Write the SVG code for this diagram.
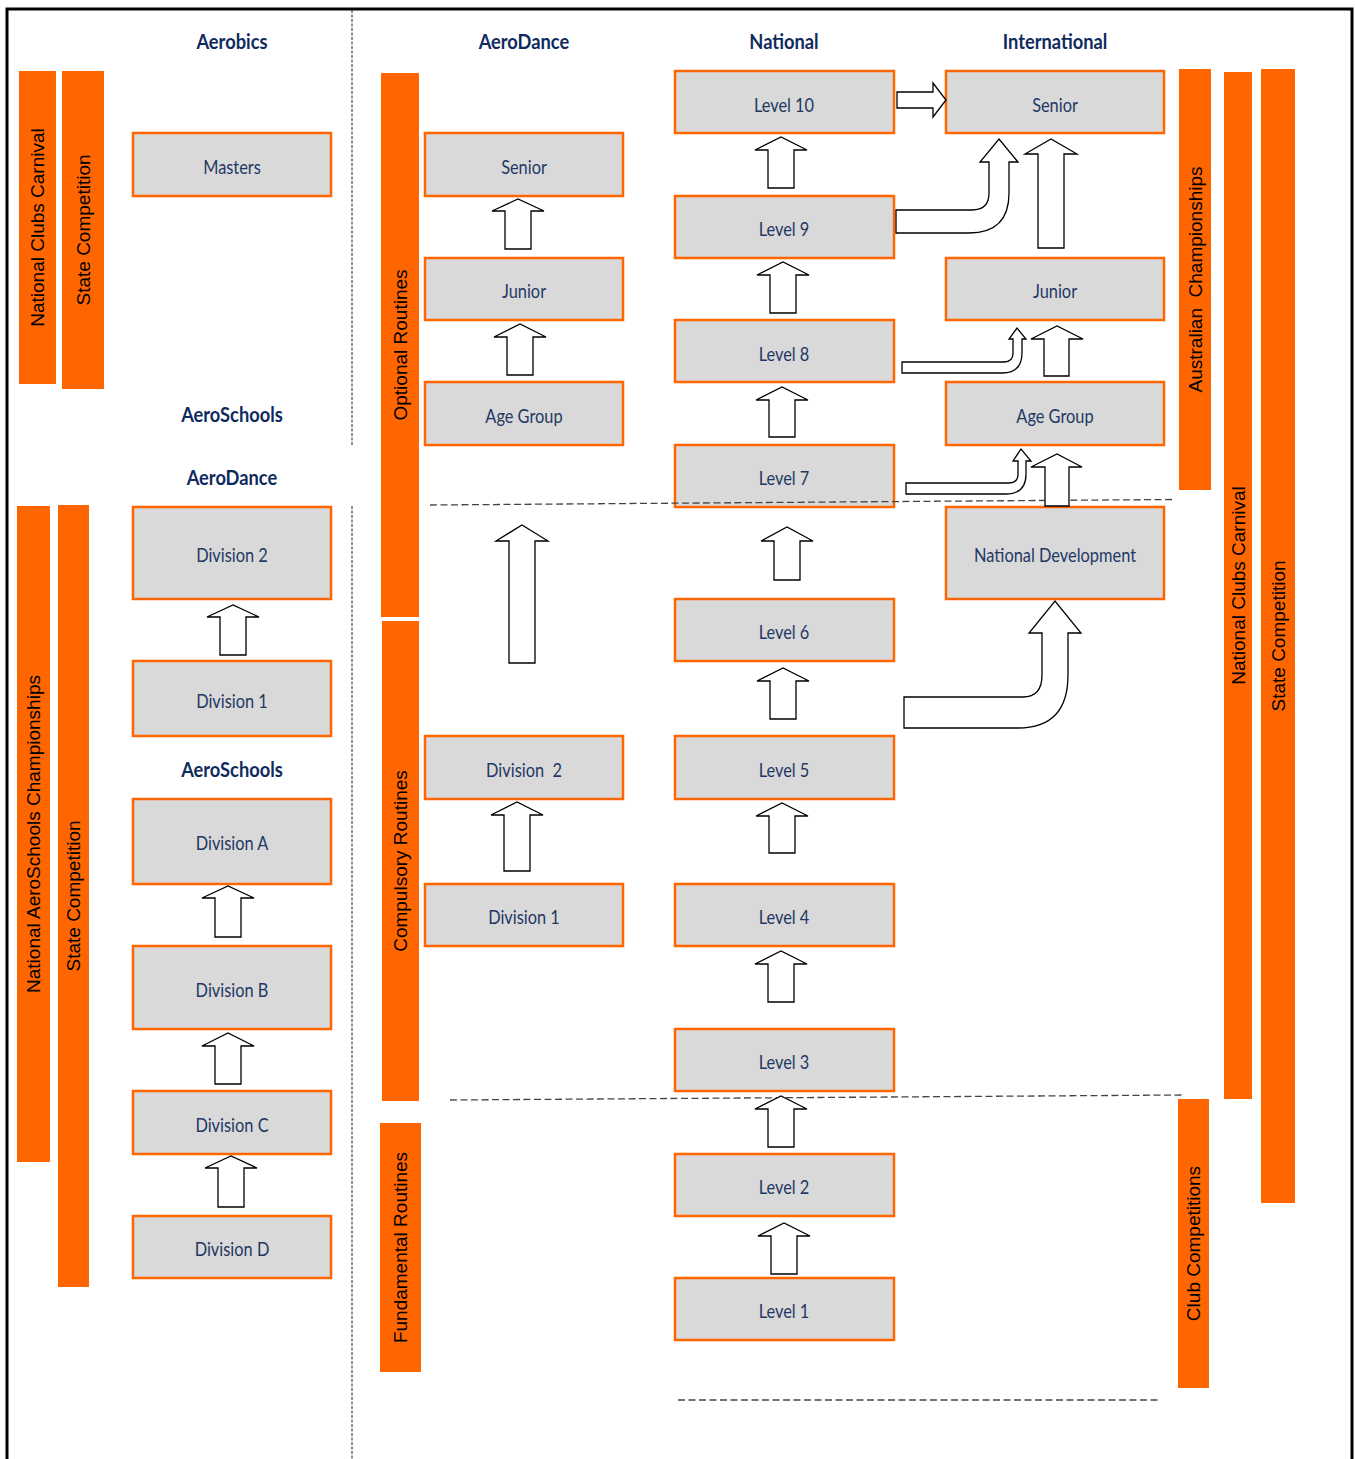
<svg xmlns="http://www.w3.org/2000/svg" width="1355" height="1459" viewBox="0 0 1355 1459">
<style>
.frame{fill:none;stroke:#000;stroke-width:3}
.sep{fill:none;stroke:#222;stroke-width:1;stroke-dasharray:3,1.5}
.dash{fill:none;stroke:#444;stroke-width:1.3;stroke-dasharray:7,3.5}
.bar{fill:#FF6600}
.btxt{font-family:"Liberation Sans",Arial,sans-serif;font-size:19px;fill:#000;text-anchor:middle;dominant-baseline:central;white-space:pre}
.box{fill:#D9D9D9;stroke:#FF6600;stroke-width:2.5}
.lbl{font-family:Lato,"Open Sans",sans-serif;font-size:19.5px;fill:#1F3864;text-anchor:middle;dominant-baseline:central;white-space:pre;transform-box:fill-box;transform-origin:center;transform:scaleX(0.84)}
.hdr{font-family:Lato,"Open Sans",sans-serif;font-size:21px;font-weight:bold;fill:#0F2B5E;text-anchor:middle;dominant-baseline:central;transform-box:fill-box;transform-origin:center;transform:scaleX(0.87)}
.arr{fill:#fff;stroke:#000;stroke-width:1.3;stroke-linejoin:miter}
</style>
<rect width="1355" height="1459" fill="#fff"/>
<rect class="frame" x="7" y="9" width="1345" height="1470"/>
<line class="sep" x1="352" y1="10" x2="352" y2="445"/>
<line class="sep" x1="352" y1="506" x2="352" y2="1459"/>

<g id="headers">
<text class="hdr" x="232" y="41">Aerobics</text>
<text class="hdr" x="524" y="41">AeroDance</text>
<text class="hdr" x="784" y="41">National</text>
<text class="hdr" x="1055" y="41">International</text>
<text class="hdr" x="232" y="414">AeroSchools</text>
<text class="hdr" x="232" y="477">AeroDance</text>
<text class="hdr" x="232" y="769">AeroSchools</text>
</g>

<g id="bar-national-clubs-carnival-left"><rect class="bar" x="19" y="71" width="37" height="313"/><text class="btxt" transform="translate(37.5,227.5) rotate(-90)">National Clubs Carnival</text></g>
<g id="bar-state-competition-left-top"><rect class="bar" x="62" y="71" width="42" height="318"/><text class="btxt" transform="translate(83,230) rotate(-90)">State Competition</text></g>
<g id="bar-national-aeroschools"><rect class="bar" x="17" y="506" width="33" height="656"/><text class="btxt" transform="translate(33.5,834) rotate(-90)">National AeroSchools Championships</text></g>
<g id="bar-state-competition-left-bottom"><rect class="bar" x="58" y="505" width="31" height="782"/><text class="btxt" transform="translate(73.5,896) rotate(-90)">State Competition</text></g>
<g id="bar-optional-routines"><rect class="bar" x="381" y="73" width="38" height="544"/><text class="btxt" transform="translate(400,345) rotate(-90)">Optional Routines</text></g>
<g id="bar-compulsory-routines"><rect class="bar" x="382" y="621" width="37" height="480"/><text class="btxt" transform="translate(400.5,861) rotate(-90)">Compulsory Routines</text></g>
<g id="bar-fundamental-routines"><rect class="bar" x="380" y="1123" width="41" height="249"/><text class="btxt" transform="translate(400.5,1247.5) rotate(-90)">Fundamental Routines</text></g>
<g id="bar-australian-championships"><rect class="bar" x="1179" y="69" width="32" height="421"/><text class="btxt" transform="translate(1195,279.5) rotate(-90)">Australian  Championships</text></g>
<g id="bar-national-clubs-carnival-right"><rect class="bar" x="1224" y="72" width="28" height="1027"/><text class="btxt" transform="translate(1238,585.5) rotate(-90)">National Clubs Carnival</text></g>
<g id="bar-state-competition-right"><rect class="bar" x="1261" y="69" width="34" height="1134"/><text class="btxt" transform="translate(1278,636) rotate(-90)">State Competition</text></g>
<g id="bar-club-competitions"><rect class="bar" x="1178" y="1099" width="31" height="289"/><text class="btxt" transform="translate(1193.5,1243.5) rotate(-90)">Club Competitions</text></g>

<g id="node-masters"><rect class="box" x="133" y="133" width="198" height="63"/><text class="lbl" x="232" y="166">Masters</text></g>
<g id="node-aerodance-division-2"><rect class="box" x="133" y="507" width="198" height="92"/><text class="lbl" x="232" y="554">Division 2</text></g>
<g id="node-aerodance-division-1"><rect class="box" x="133" y="661" width="198" height="75"/><text class="lbl" x="232" y="700">Division 1</text></g>
<g id="node-division-a"><rect class="box" x="133" y="799" width="198" height="85"/><text class="lbl" x="232" y="842">Division A</text></g>
<g id="node-division-b"><rect class="box" x="133" y="946" width="198" height="83"/><text class="lbl" x="232" y="989">Division B</text></g>
<g id="node-division-c"><rect class="box" x="133" y="1091" width="198" height="63"/><text class="lbl" x="232" y="1124">Division C</text></g>
<g id="node-division-d"><rect class="box" x="133" y="1216" width="198" height="62"/><text class="lbl" x="232" y="1248">Division D</text></g>

<g id="node-ad-senior"><rect class="box" x="425" y="133" width="198" height="63"/><text class="lbl" x="524" y="166">Senior</text></g>
<g id="node-ad-junior"><rect class="box" x="425" y="258" width="198" height="62"/><text class="lbl" x="524" y="290">Junior</text></g>
<g id="node-ad-age-group"><rect class="box" x="425" y="382" width="198" height="63"/><text class="lbl" x="524" y="415">Age Group</text></g>
<g id="node-ad-division-2"><rect class="box" x="425" y="736" width="198" height="63"/><text class="lbl" x="524" y="769">Division  2</text></g>
<g id="node-ad-division-1"><rect class="box" x="425" y="884" width="198" height="62"/><text class="lbl" x="524" y="916">Division 1</text></g>

<g id="node-level-10"><rect class="box" x="675" y="71" width="219" height="62"/><text class="lbl" x="784" y="104">Level 10</text></g>
<g id="node-level-9"><rect class="box" x="675" y="196" width="219" height="62"/><text class="lbl" x="784" y="228">Level 9</text></g>
<g id="node-level-8"><rect class="box" x="675" y="320" width="219" height="62"/><text class="lbl" x="784" y="353">Level 8</text></g>
<g id="node-level-7"><rect class="box" x="675" y="445" width="219" height="62"/><text class="lbl" x="784" y="477">Level 7</text></g>
<g id="node-level-6"><rect class="box" x="675" y="599" width="219" height="62"/><text class="lbl" x="784" y="631">Level 6</text></g>
<g id="node-level-5"><rect class="box" x="675" y="736" width="219" height="63"/><text class="lbl" x="784" y="769">Level 5</text></g>
<g id="node-level-4"><rect class="box" x="675" y="884" width="219" height="62"/><text class="lbl" x="784" y="916">Level 4</text></g>
<g id="node-level-3"><rect class="box" x="675" y="1029" width="219" height="62"/><text class="lbl" x="784" y="1061">Level 3</text></g>
<g id="node-level-2"><rect class="box" x="675" y="1154" width="219" height="62"/><text class="lbl" x="784" y="1186">Level 2</text></g>
<g id="node-level-1"><rect class="box" x="675" y="1278" width="219" height="62"/><text class="lbl" x="784" y="1310">Level 1</text></g>

<g id="node-int-senior"><rect class="box" x="946" y="71" width="218" height="62"/><text class="lbl" x="1055" y="104">Senior</text></g>
<g id="node-int-junior"><rect class="box" x="946" y="258" width="218" height="62"/><text class="lbl" x="1055" y="290">Junior</text></g>
<g id="node-int-age-group"><rect class="box" x="946" y="382" width="218" height="63"/><text class="lbl" x="1055" y="415">Age Group</text></g>
<g id="node-national-development"><rect class="box" x="946" y="507" width="218" height="92"/><text class="lbl" x="1055" y="554">National Development</text></g>

<g id="connectors">
<line class="dash" x1="430" y1="505" x2="1173" y2="499.5"/>
<line class="dash" x1="450" y1="1100" x2="1182" y2="1095"/>
<line class="dash" x1="678" y1="1400" x2="1158" y2="1400"/>
<path class="arr" d="M220,655 L220,617 L207,617 L233,605 L259,617 L246,617 L246,655 Z"/>
<path class="arr" d="M215,937 L215,898 L202,898 L228,886 L254,898 L241,898 L241,937 Z"/>
<path class="arr" d="M215,1084 L215,1046 L202,1046 L228,1033 L254,1046 L241,1046 L241,1084 Z"/>
<path class="arr" d="M218,1207 L218,1168 L205,1168 L231,1156 L257,1168 L244,1168 L244,1207 Z"/>
<path class="arr" d="M505,249 L505,211 L492,211 L518,199 L544,211 L531,211 L531,249 Z"/>
<path class="arr" d="M507,375 L507,337 L494,337 L520,324 L546,337 L533,337 L533,375 Z"/>
<path class="arr" d="M509,663 L509,541 L496,541 L522,525 L548,541 L535,541 L535,663 Z"/>
<path class="arr" d="M504,871 L504,815 L491,815 L517,802 L543,815 L530,815 L530,871 Z"/>
<path class="arr" d="M768,188 L768,150 L755,150 L781,137 L807,150 L794,150 L794,188 Z"/>
<path class="arr" d="M770,313 L770,275 L757,275 L783,262 L809,275 L796,275 L796,313 Z"/>
<path class="arr" d="M769,437 L769,400 L756,400 L782,387 L808,400 L795,400 L795,437 Z"/>
<path class="arr" d="M774,580 L774,541 L761,541 L787,527 L813,541 L800,541 L800,580 Z"/>
<path class="arr" d="M770,719 L770,681 L757,681 L783,668 L809,681 L796,681 L796,719 Z"/>
<path class="arr" d="M769,853 L769,816 L756,816 L782,803 L808,816 L795,816 L795,853 Z"/>
<path class="arr" d="M768,1002 L768,964 L755,964 L781,951 L807,964 L794,964 L794,1002 Z"/>
<path class="arr" d="M768,1147 L768,1109 L755,1109 L781,1096 L807,1109 L794,1109 L794,1147 Z"/>
<path class="arr" d="M771,1274 L771,1236 L758,1236 L784,1223 L810,1236 L797,1236 L797,1274 Z"/>
<path class="arr" d="M1038,248 L1038,154 L1025,154 L1051,139 L1077,154 L1064,154 L1064,248 Z"/>
<path class="arr" d="M1044,376 L1044,339 L1031,339 L1057,326 L1083,339 L1069,339 L1069,376 Z"/>
<path class="arr" d="M1045,506 L1045,467 L1031,467 L1057,454 L1082,467 L1069,467 L1069,506 Z"/>
<path class="arr" d="M897,92 L933,92 L933,83 L946,100 L933,117 L933,108 L897,108 Z"/>
<path class="arr" d="M896,210 L972,210 Q989,210 989,193 L989,162 L980,162 L999,139 L1018,162 L1009,162 L1009,193 Q1009,233 969,233 L896,233 Z"/>
<path class="arr" d="M902,362 L1004,362 Q1013,362 1013,353 L1013,339 L1009,339 L1017,328 L1026,339 L1022,339 L1022,353 Q1022,373 1002,373 L902,373 Z"/>
<path class="arr" d="M906,483 L1009,483 Q1018,483 1018,474 L1018,461 L1013,461 L1021,449 L1031,461 L1026,461 L1026,474 Q1026,494 1006,494 L906,494 Z"/>
<path class="arr" d="M904,697 L1023,697 Q1042,697 1042,675 L1042,633 L1029,633 L1055,601 L1081,633 L1068,633 L1068,675 Q1068,728 1018,728 L904,728 Z"/>
</g>
</svg>
